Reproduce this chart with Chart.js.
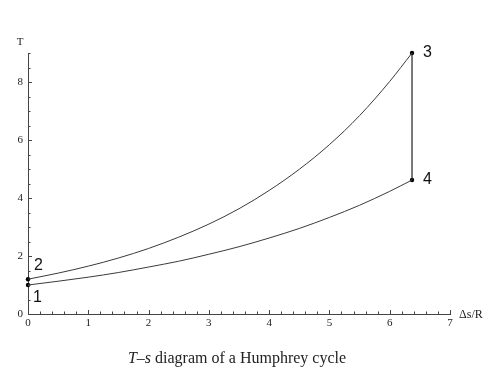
<!DOCTYPE html>
<html>
<head>
<meta charset="utf-8">
<script src="https://cdn.jsdelivr.net/npm/chart.js@4.4.1/dist/chart.umd.min.js"></script>
<style>
  html, body { margin: 0; padding: 0; background: #fff; }
  #wrap { width: 500px; height: 385px; }
</style>
</head>
<body>
<div id="wrap"><canvas id="canvas" width="500" height="385"></canvas></div>
<script>
// entropy values (Δs/R)
var sValues = [0, 0.5, 1, 1.5, 2, 2.5, 3, 3.5, 4, 4.5, 5, 5.5, 6, 6.37];
// 2 -> 3 (heat addition at constant volume)
var upperT = [1.20, 1.41, 1.65, 1.93, 2.26, 2.65, 3.10, 3.63, 4.26, 4.99, 5.84, 6.84, 8.02, 9.00];
// 1 -> 4 (heat rejection at constant pressure)
var lowerT = [1.00, 1.13, 1.27, 1.43, 1.62, 1.82, 2.06, 2.32, 2.62, 2.95, 3.33, 3.75, 4.23, 4.62];

// state points
var stateLabels = ["1", "2", "3", "4"];
var stateS = [0, 0, 6.37, 6.37];
var stateT = [1.00, 1.20, 9.00, 4.62];

var xTicks = [0, 1, 2, 3, 4, 5, 6, 7];
var yTicks = [0, 2, 4, 6, 8];

function toPoints(xs, ys) {
    return xs.map(function(x, i) { return { x: x, y: ys[i] }; });
}

var lineColor = '#3a3a3a';

var config = {
    type: 'scatter',
    data: {
        datasets: [{
            data: toPoints(sValues, upperT),
            showLine: true,
            borderColor: lineColor,
            borderWidth: 1,
            pointRadius: 0,
            clip: false,
            cubicInterpolationMode: 'monotone'
        }, {
            data: toPoints(sValues, lowerT),
            showLine: true,
            borderColor: lineColor,
            borderWidth: 1,
            pointRadius: 0,
            clip: false,
            cubicInterpolationMode: 'monotone'
        }, {
            // 3 -> 4 expansion
            data: [{ x: stateS[2], y: stateT[2] }, { x: stateS[3], y: stateT[3] }],
            showLine: true,
            borderColor: '#222',
            borderWidth: 1.2,
            pointRadius: 0,
            clip: false
        }, {
            data: toPoints(stateS, stateT),
            showLine: false,
            pointRadius: 2.2,
            pointBackgroundColor: '#000',
            pointBorderWidth: 0,
            clip: false
        }]
    },
    options: {
        responsive: false,
        animation: false,
        layout: {
            padding: { top: 53, right: 50, bottom: 51, left: 0 }
        },
        plugins: {
            legend: { display: false },
            tooltip: { enabled: false }
        },
        scales: {
            x: {
                type: 'linear',
                min: 0,
                max: 7,
                afterFit: function(scale) { scale.height = 20; },
                afterBuildTicks: function(scale) {
                    scale.ticks = xTicks.map(function(v) { return { value: v }; });
                },
                grid: { display: false, drawTicks: false },
                border: { display: true, color: '#444', width: 1 },
                ticks: {
                    padding: 3,
                    color: '#222',
                    maxRotation: 0,
                    font: { family: 'Liberation Serif', size: 11 }
                }
            },
            y: {
                type: 'linear',
                min: 0,
                max: 9,
                afterFit: function(scale) { scale.width = 28; },
                afterBuildTicks: function(scale) {
                    scale.ticks = yTicks.map(function(v) { return { value: v }; });
                },
                grid: { display: false, drawTicks: false },
                border: { display: true, color: '#444', width: 1 },
                ticks: {
                    padding: 5,
                    color: '#222',
                    font: { family: 'Liberation Serif', size: 11 }
                }
            }
        }
    },
    plugins: [{
        id: 'decorations',
        afterDraw: function(chart) {
            var ctx = chart.ctx;
            var xs = chart.scales.x, ys = chart.scales.y;
            var x0 = xs.getPixelForValue(0), y0 = ys.getPixelForValue(0);
            ctx.save();
            // inward ticks, Mathematica style
            ctx.strokeStyle = '#444';
            ctx.lineWidth = 1;
            ctx.beginPath();
            for (var i = 1; i <= 35; i++) {
                var v = i * 0.2;
                var px = Math.round(xs.getPixelForValue(v)) + 0.5;
                var len = (i % 5 === 0) ? 4 : 2.5;
                ctx.moveTo(px, y0);
                ctx.lineTo(px, y0 - len);
            }
            for (var j = 1; j <= 18; j++) {
                var w = j * 0.5;
                var py = Math.round(ys.getPixelForValue(w)) + 0.5;
                var len2 = (j % 4 === 0) ? 4 : 2.5;
                ctx.moveTo(x0, py);
                ctx.lineTo(x0 + len2, py);
            }
            ctx.stroke();

            // axis labels
            ctx.fillStyle = '#222';
            ctx.font = '11px "Liberation Serif"';
            ctx.textAlign = 'center';
            ctx.textBaseline = 'middle';
            ctx.fillText('T', 20, 42);
            ctx.font = '12px "Liberation Serif"';
            ctx.textAlign = 'left';
            ctx.fillText('\u0394s/R', xs.right + 9, y0 + 1);

            // state labels
            ctx.fillStyle = '#111';
            ctx.font = '16px "Liberation Sans"';
            ctx.textAlign = 'left';
            var offs = [[5, 13], [6, -14], [11, 0], [11, 0]];
            for (var k = 0; k < stateLabels.length; k++) {
                var lx = xs.getPixelForValue(stateS[k]) + offs[k][0];
                var ly = ys.getPixelForValue(stateT[k]) + offs[k][1];
                ctx.fillText(stateLabels[k], lx, ly);
            }

            // caption
            var parts = [
                ['T', 'italic 16px "Liberation Serif"'],
                ['\u2013', '16px "Liberation Serif"'],
                ['s', 'italic 16px "Liberation Serif"'],
                [' diagram of a Humphrey cycle', '16px "Liberation Serif"']
            ];
            var total = 0;
            parts.forEach(function(p) { ctx.font = p[1]; total += ctx.measureText(p[0]).width; });
            var cx = 237 - total / 2;
            ctx.fillStyle = '#222';
            ctx.textBaseline = 'alphabetic';
            parts.forEach(function(p) {
                ctx.font = p[1];
                ctx.fillText(p[0], cx, 363);
                cx += ctx.measureText(p[0]).width;
            });
            ctx.restore();
        }
    }]
};

window.onload = function() {
    var ctx = document.getElementById('canvas').getContext('2d');
    window.myChart = new Chart(ctx, config);
};
</script>
</body>
</html>
